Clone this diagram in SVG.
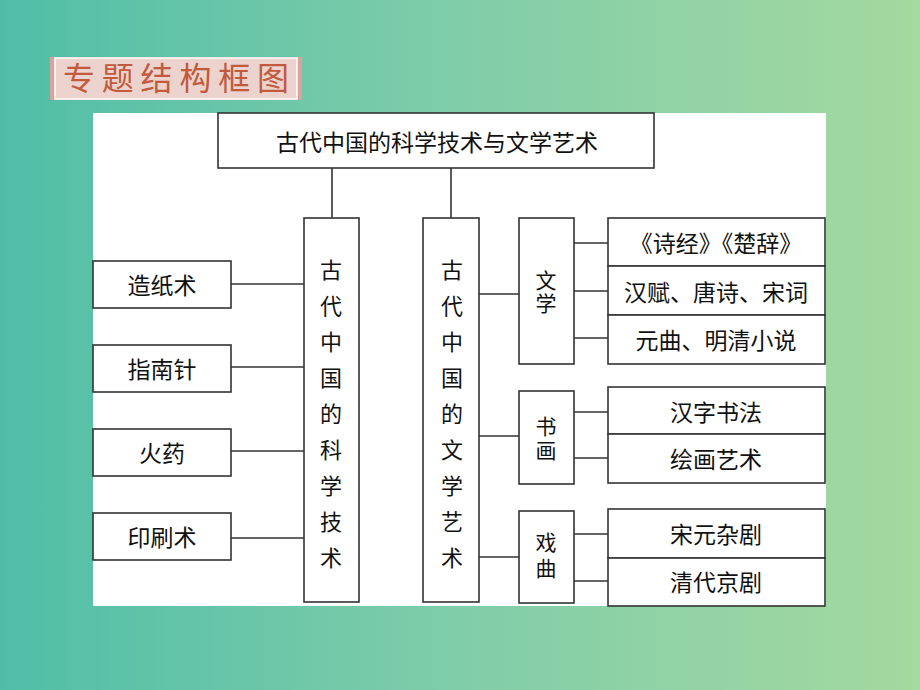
<svg xmlns="http://www.w3.org/2000/svg" width="920" height="690" viewBox="0 0 920 690">
<defs>
<linearGradient id="bg" x1="0" y1="0" x2="1" y2="0">
<stop offset="0" stop-color="#50bea7"/>
<stop offset="0.5" stop-color="#80cda9"/>
<stop offset="1" stop-color="#a4d99f"/>
</linearGradient>
<style>
.box{fill:#fff;stroke:#333;stroke-width:1.6}
.ln{stroke:#333;stroke-width:1.6;fill:none}
.t{font-family:"Noto Sans CJK SC","Noto Sans CJK TC",sans-serif;font-size:23px;fill:#111;text-anchor:middle;dominant-baseline:central}
.v{font-size:22px}
.vt{font-family:"Noto Sans CJK SC","Noto Sans CJK TC",sans-serif;font-size:21px;fill:#111;text-anchor:middle;writing-mode:vertical-rl;dominant-baseline:central}
.tag{font-family:"Noto Sans CJK SC",sans-serif;font-size:32px;fill:#c25a3e}
</style>
</defs>
<rect width="920" height="690" fill="url(#bg)"/>
<g id="tag">
<rect x="50" y="57" width="252" height="43" fill="#d8a39c"/>
<rect x="55" y="58" width="242" height="41" fill="#ecd3cd" stroke="#fff" stroke-width="1.5"/>
<text class="tag" x="63" y="90" textLength="226" lengthAdjust="spacing">专题结构框图</text>
</g>
<rect x="93" y="113" width="733" height="493" fill="#fff"/>
<g id="connectors">
<path class="ln" d="M332 168V218M451 168V218"/>
<path class="ln" d="M231 284H304M231 367H304M231 451H304M231 538H304"/>
<path class="ln" d="M479 294H519M479 436H519M479 557H519"/>
<path class="ln" d="M574 243H608M574 291H608M574 338H608"/>
<path class="ln" d="M574 412H608M574 458H608"/>
<path class="ln" d="M574 534H608M574 581H608"/>
</g>
<g id="root"><rect class="box" x="218" y="113" width="436" height="55"/><text class="t" x="437" y="141">古代中国的科学技术与文学艺术</text></g>
<g id="sci"><rect class="box" x="304" y="218" width="55" height="384"/>
<text class="t v" x="331" y="268">古</text><text class="t v" x="331" y="304">代</text><text class="t v" x="331" y="340">中</text><text class="t v" x="331" y="376">国</text><text class="t v" x="331" y="412">的</text><text class="t v" x="331" y="448">科</text><text class="t v" x="331" y="484">学</text><text class="t v" x="331" y="520">技</text><text class="t v" x="331" y="556">术</text></g>
<g id="art"><rect class="box" x="423" y="218" width="56" height="384"/>
<text class="t v" x="452" y="268">古</text><text class="t v" x="452" y="304">代</text><text class="t v" x="452" y="340">中</text><text class="t v" x="452" y="376">国</text><text class="t v" x="452" y="412">的</text><text class="t v" x="452" y="448">文</text><text class="t v" x="452" y="484">学</text><text class="t v" x="452" y="520">艺</text><text class="t v" x="452" y="556">术</text></g>
<g id="zhizhi"><rect class="box" x="93" y="261" width="138" height="47"/><text class="t" x="162" y="284">造纸术</text></g>
<g id="zhinan"><rect class="box" x="93" y="345" width="138" height="47"/><text class="t" x="162" y="368">指南针</text></g>
<g id="huoyao"><rect class="box" x="93" y="429" width="138" height="47"/><text class="t" x="162" y="452">火药</text></g>
<g id="yinshua"><rect class="box" x="93" y="513" width="138" height="47"/><text class="t" x="162" y="536">印刷术</text></g>
<g id="wenxue"><rect class="box" x="519" y="218" width="55" height="146"/><text class="vt" x="546" y="293" style="letter-spacing:2px">文学</text></g>
<g id="shuhua"><rect class="box" x="519" y="391" width="55" height="93"/><text class="vt" x="546" y="440" style="letter-spacing:3px">书画</text></g>
<g id="xiqu"><rect class="box" x="519" y="511" width="55" height="92"/><text class="vt" x="546" y="558" style="letter-spacing:5px">戏曲</text></g>
<g id="shijing"><rect class="box" x="608" y="218" width="217" height="48"/><text class="t" x="716" y="242">《诗经》《楚辞》</text></g>
<g id="hanfu"><rect class="box" x="608" y="266" width="217" height="49"/><text class="t" x="716" y="291">汉赋、唐诗、宋词</text></g>
<g id="yuanqu"><rect class="box" x="608" y="315" width="217" height="49"/><text class="t" x="716" y="339">元曲、明清小说</text></g>
<g id="shufa"><rect class="box" x="608" y="387" width="217" height="47"/><text class="t" x="716" y="411">汉字书法</text></g>
<g id="huihua"><rect class="box" x="608" y="434" width="217" height="49"/><text class="t" x="716" y="458">绘画艺术</text></g>
<g id="zaju"><rect class="box" x="608" y="509" width="217" height="49"/><text class="t" x="716" y="533">宋元杂剧</text></g>
<g id="jingju"><rect class="box" x="608" y="558" width="217" height="48"/><text class="t" x="716" y="581">清代京剧</text></g>
</svg>
